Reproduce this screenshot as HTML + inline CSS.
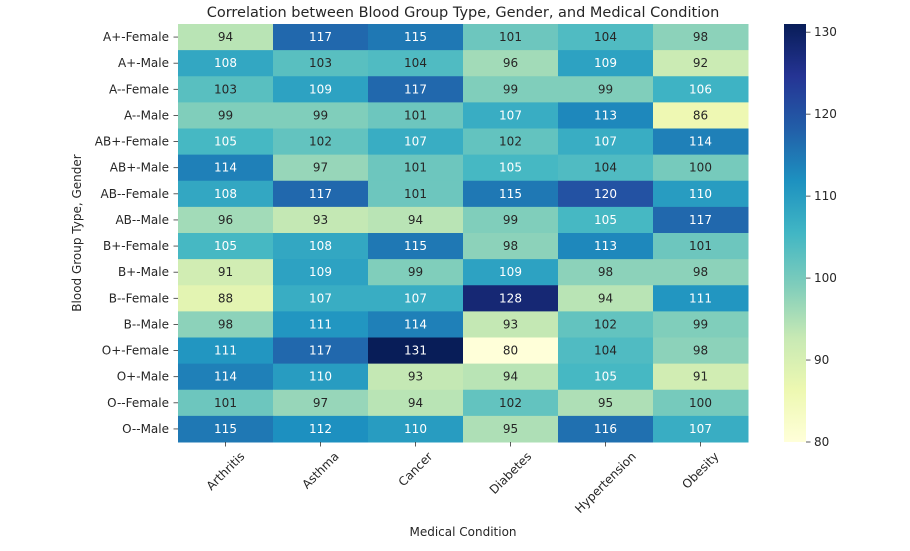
<!DOCTYPE html>
<html><head><meta charset="utf-8"><style>
body{margin:0;background:#fff;}
svg text{font-family:"DejaVu Sans","Liberation Sans",sans-serif;fill:#262626;}
</style></head><body>
<svg id="chart" width="910" height="546" xmlns="http://www.w3.org/2000/svg">
<text x="463" y="17" text-anchor="middle" font-size="14.5">Correlation between Blood Group Type, Gender, and Medical Condition</text>
<text x="0" y="0" text-anchor="middle" font-size="12" transform="translate(81,233) rotate(-90)">Blood Group Type, Gender</text>
<text x="463" y="536" text-anchor="middle" font-size="12">Medical Condition</text>
<g id="cells"></g><g id="xlabels"></g><g id="ylabels"></g><g id="cbar"></g>
<defs><linearGradient id="cg" x1="0" y1="1" x2="0" y2="0"></linearGradient></defs>
</svg>
<script>
const rows=["A+-Female","A+-Male","A--Female","A--Male","AB+-Female","AB+-Male","AB--Female","AB--Male","B+-Female","B+-Male","B--Female","B--Male","O+-Female","O+-Male","O--Female","O--Male"];
const cols=["Arthritis","Asthma","Cancer","Diabetes","Hypertension","Obesity"];
const values=[
[94,117,115,101,104,98],
[108,103,104,96,109,92],
[103,109,117,99,99,106],
[99,99,101,107,113,86],
[105,102,107,102,107,114],
[114,97,101,105,104,100],
[108,117,101,115,120,110],
[96,93,94,99,105,117],
[105,108,115,98,113,101],
[91,109,99,109,98,98],
[88,107,107,128,94,111],
[98,111,114,93,102,99],
[111,117,131,80,104,98],
[114,110,93,94,105,91],
[101,97,94,102,95,100],
[115,112,110,95,116,107]];
const cbTicks=[80,90,100,110,120,130];
const NS="http://www.w3.org/2000/svg";
const L=178,R=748,T=24,B=442;
const flat=values.flat();const vmin=Math.min(...flat),vmax=Math.max(...flat);
const cw=(R-L)/cols.length,rh=(B-T)/rows.length;
const stops=["#ffffd9","#edf8b1","#c7e9b4","#7fcdbb","#41b6c4","#1d91c0","#225ea8","#253494","#081d58"].map(h=>[1,3,5].map(i=>parseInt(h.substr(i,2),16)));
function cmap(v){let t=(v-vmin)/(vmax-vmin);t=Math.max(0,Math.min(1,t))*(stops.length-1);const i=Math.min(Math.floor(t),stops.length-2),f=t-i;return stops[i].map((c,k)=>Math.round(c+(stops[i+1][k]-c)*f));}
function lum(c){const a=c.map(x=>{x/=255;return x<=0.03928?x/12.92:Math.pow((x+0.055)/1.055,2.4)});return 0.2126*a[0]+0.7152*a[1]+0.0722*a[2];}
const thr=lum(cmap(104.5));
function mk(tag,at,p){const e=document.createElementNS(NS,tag);for(const k in at)e.setAttribute(k,at[k]);p.appendChild(e);return e;}
const cells=document.getElementById('cells');
values.forEach((row,r)=>row.forEach((v,c)=>{
 const col=cmap(v);
 const rect=mk('rect',{x:L+c*cw,y:T+r*rh,width:cw+0.5,height:rh+0.5,fill:`rgb(${col})`},cells);
 
 
 const t=mk('text',{x:L+(c+.5)*cw,y:T+(r+.5)*rh+4,'text-anchor':'middle','font-size':12},cells);
 t.style.fill=lum(col)>thr?'#262626':'#ffffff';
 t.textContent=v;
 
 
}));
const yl=document.getElementById('ylabels');
rows.forEach((n,r)=>{const y=T+(r+.5)*rh;
 mk('line',{x1:L-4.5,x2:L,y1:y,y2:y,stroke:'#333','stroke-width':0.8},yl);
 const t=mk('text',{x:L-9,y:y+4,'text-anchor':'end','font-size':12},yl);t.textContent=n;
 
 });
const xl=document.getElementById('xlabels');
cols.forEach((n,c)=>{const x=L+(c+.5)*cw;
 mk('line',{x1:x,x2:x,y1:B,y2:B+4.5,stroke:'#333','stroke-width':0.8},xl);
 const t=mk('text',{x:0,y:4,'text-anchor':'middle','font-size':12},xl);t.textContent=n;
 const len=t.getComputedTextLength();const h=(len+12)*0.7071/2;
 t.setAttribute('transform',`translate(${x},${B+8+h}) rotate(-45)`);
 
 });
const g=document.getElementById('cg');
stops.forEach((s,i)=>mk('stop',{offset:i/(stops.length-1),'stop-color':`rgb(${s})`},g));
const cb=document.getElementById('cbar');
const cbr=mk('rect',{x:784,y:T,width:22,height:B-T,fill:'url(#cg)'},cb);


cbTicks.forEach(v=>{const y=B-(v-vmin)/(vmax-vmin)*(B-T);
 mk('line',{x1:806,x2:810.5,y1:y,y2:y,stroke:'#333','stroke-width':0.8},cb);
 const t=mk('text',{x:814,y:y+4,'font-size':12},cb);t.textContent=v;
 
 });
</script>
</body></html>
